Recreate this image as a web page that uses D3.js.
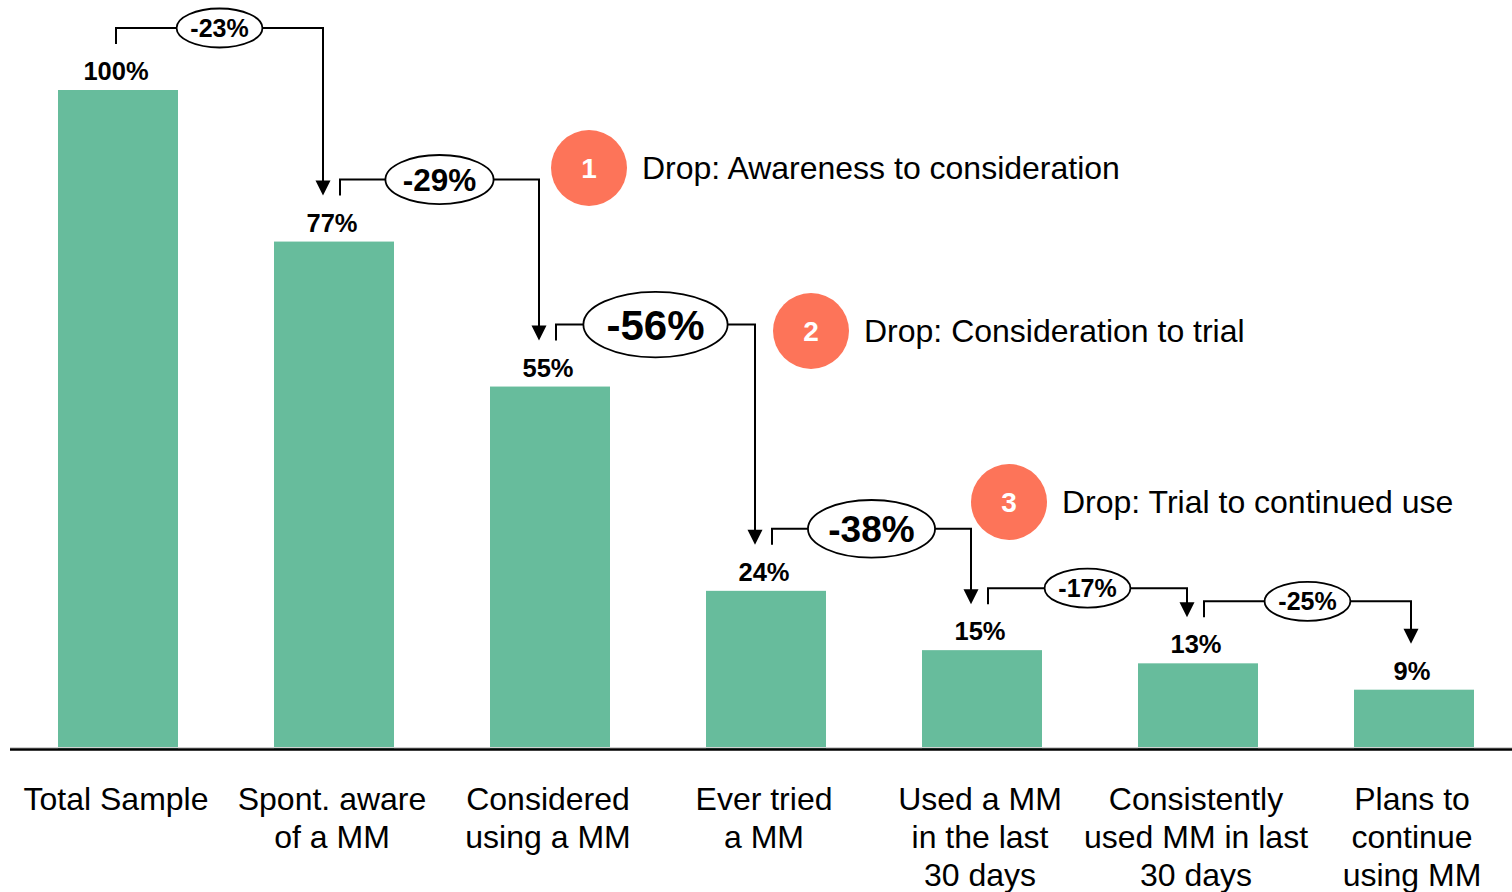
<!DOCTYPE html>
<html>
<head>
<meta charset="utf-8">
<script src="https://cdn.jsdelivr.net/npm/d3@7"></script>
<style>
  html, body { margin: 0; padding: 0; background: #fff; }
  svg { display: block; font-family: Arial, "Liberation Sans", sans-serif; }
</style>
</head>
<body>
<svg id="chart" width="1512" height="892"></svg>
<script>
// Funnel stages
const categories = [
  "Total Sample",
  "Spont. aware of a MM",
  "Considered using a MM",
  "Ever tried a MM",
  "Used a MM in the last 30 days",
  "Consistently used MM in last 30 days",
  "Plans to continue using MM"
];
const categoryLines = [
  ["Total Sample"],
  ["Spont. aware", "of a MM"],
  ["Considered", "using a MM"],
  ["Ever tried", "a MM"],
  ["Used a MM", "in the last", "30 days"],
  ["Consistently", "used MM in last", "30 days"],
  ["Plans to", "continue", "using MM"]
];
const values = [100, 77, 55, 24, 15, 13, 9];

// Stage-to-stage drops
const dropLabels = ["-23%", "-29%", "-56%", "-38%", "-17%", "-25%"];

// Highlighted drops
const badgeNumbers = ["1", "2", "3"];
const badgeTexts = [
  "Drop: Awareness to consideration",
  "Drop: Consideration to trial",
  "Drop: Trial to continued use"
];

// ---- layout ----
const svg = d3.select("#chart");
const W = 1512;
const baseY = 749;
const barColor = "#67BC9C";
const badgeColor = "#FD7459";

const x = d3.scaleBand()
  .domain(categories)
  .range([10, 10 + W])
  .paddingInner(96 / 216)
  .paddingOuter(48 / 216);
const y = d3.scaleLinear().domain([0, 100]).range([baseY, 90]);
const cx = i => x(categories[i]) + x.bandwidth() / 2;
const labelShift = -2;

// bars
svg.append("g").selectAll("rect")
  .data(values)
  .join("rect")
  .attr("x", (d, i) => x(categories[i]))
  .attr("y", d => y(d))
  .attr("width", x.bandwidth())
  .attr("height", d => baseY - y(d))
  .attr("fill", barColor);

// baseline
svg.append("line")
  .attr("x1", 10).attr("x2", W)
  .attr("y1", baseY - 1.5).attr("y2", baseY - 1.5)
  .attr("stroke", "#d0d0d0").attr("stroke-width", 1);
svg.append("line")
  .attr("x1", 10).attr("x2", W)
  .attr("y1", baseY + 0.5).attr("y2", baseY + 0.5)
  .attr("stroke", "#000").attr("stroke-width", 2.5);

// value labels
svg.append("g").selectAll("text")
  .data(values)
  .join("text")
  .attr("x", (d, i) => cx(i) + labelShift)
  .attr("y", d => y(d) - 10)
  .attr("text-anchor", "middle")
  .attr("font-size", 25.5)
  .attr("font-weight", "bold")
  .attr("fill", "#000")
  .text(d => d + "%");

// category labels
const catG = svg.append("g");
categoryLines.forEach((lines, i) => {
  const lx = cx(i) + labelShift;
  const t = catG.append("text")
    .attr("x", lx)
    .attr("y", 810)
    .attr("text-anchor", "middle")
    .attr("font-size", 32)
    .attr("fill", "#000");
  lines.forEach((ln, k) => {
    t.append("tspan").attr("x", lx).attr("y", 810 + k * 38).text(ln);
  });
});

// drop connectors: tick up from one stage, across, arrow down to the next
const dropSize = [25, 31.5, 42, 37, 25, 25];
const lift = 46, rise = 16;
const conn = svg.append("g");
dropLabels.forEach((lbl, i) => {
  const x0 = cx(i) + (i === 0 ? -2 : 6);
  const x1 = cx(i + 1) + (i === dropLabels.length - 1 ? -3 : -11);
  const yStart = y(values[i]) - lift;
  const yH = yStart - rise;
  const yTip = y(values[i + 1]) - lift;

  conn.append("path")
    .attr("d", `M${x0},${yStart} V${yH} H${x1} V${yTip - 13}`)
    .attr("fill", "none")
    .attr("stroke", "#000")
    .attr("stroke-width", 2);
  conn.append("path")
    .attr("d", `M${x1 - 7.5},${yTip - 15} L${x1 + 7.5},${yTip - 15} L${x1},${yTip} Z`)
    .attr("fill", "#000");

  const fs = dropSize[i];
  const mx = (x0 + x1) / 2;
  const txt = conn.append("text")
    .attr("x", mx)
    .attr("y", yH)
    .attr("dy", "0.36em")
    .attr("text-anchor", "middle")
    .attr("font-size", fs)
    .attr("font-weight", "bold")
    .attr("fill", "#000")
    .text(lbl);
  const tw = txt.node().getComputedTextLength();
  conn.insert("ellipse", function () { return txt.node(); })
    .attr("cx", mx)
    .attr("cy", yH)
    .attr("rx", tw / 2 + fs * 0.55)
    .attr("ry", fs * 0.78)
    .attr("fill", "#fff")
    .attr("stroke", "#000")
    .attr("stroke-width", 1.8);
});

// numbered callouts
const badgePos = [[589, 168], [811, 331], [1009, 502]];
const badgeR = 38;
const bg = svg.append("g");
badgeNumbers.forEach((n, i) => {
  const [bx, by] = badgePos[i];
  bg.append("circle")
    .attr("cx", bx).attr("cy", by).attr("r", badgeR)
    .attr("fill", badgeColor);
  bg.append("text")
    .attr("x", bx).attr("y", by)
    .attr("dy", "0.36em")
    .attr("text-anchor", "middle")
    .attr("font-size", 28)
    .attr("font-weight", "bold")
    .attr("fill", "#fff")
    .text(n);
  bg.append("text")
    .attr("x", bx + badgeR + 15)
    .attr("y", by + 11)
    .attr("font-size", 32)
    .attr("fill", "#000")
    .text(badgeTexts[i]);
});
</script>
</body>
</html>
